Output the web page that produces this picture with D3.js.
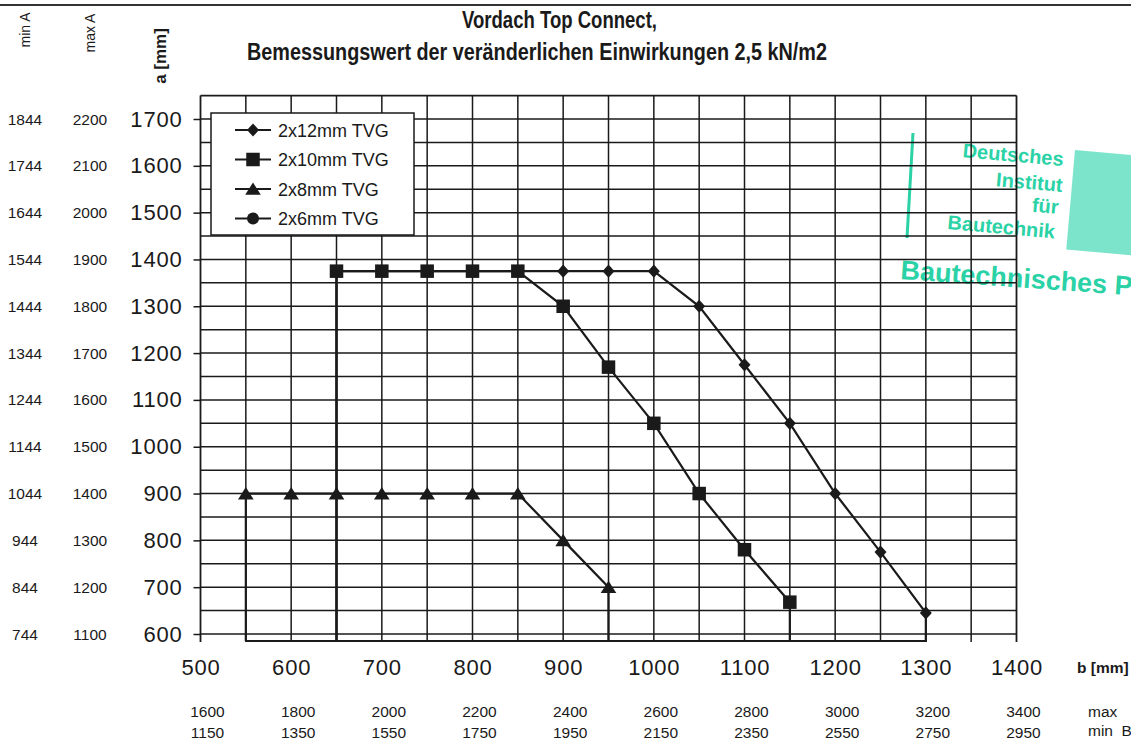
<!DOCTYPE html>
<html><head><meta charset="utf-8">
<script src="https://cdn.jsdelivr.net/npm/d3@7"></script>
<style>
html,body{margin:0;padding:0;background:#fff;}
svg{display:block;}
text{font-family:"Liberation Sans",Arial,Helvetica,sans-serif;fill:#1a1a1a;}
</style></head>
<body>
<svg id="c" width="1131" height="738"></svg>
<script>
// ---- data ----
const titleLines = ["Vordach Top Connect,", "Bemessungswert der veränderlichen Einwirkungen 2,5 kN/m2"];
const seriesNames = ["2x12mm TVG", "2x10mm TVG", "2x8mm TVG", "2x6mm TVG"];
const seriesMarkers = ["diamond", "square", "triangle", "circle"];
const b12 = [650, 700, 750, 800, 850, 900, 950, 1000, 1050, 1100, 1150, 1200, 1250, 1300];
const a12 = [1375, 1375, 1375, 1375, 1375, 1375, 1375, 1375, 1300, 1175, 1050, 900, 775, 645];
const b10 = [650, 700, 750, 800, 850, 900, 950, 1000, 1050, 1100, 1150];
const a10 = [1375, 1375, 1375, 1375, 1375, 1300, 1170, 1050, 900, 780, 668];
const b8 = [550, 600, 650, 700, 750, 800, 850, 900, 950];
const a8 = [900, 900, 900, 900, 900, 900, 900, 800, 700];
const b6 = [];
const a6 = [];
const aTicks = [600, 700, 800, 900, 1000, 1100, 1200, 1300, 1400, 1500, 1600, 1700];
const minA = [744, 844, 944, 1044, 1144, 1244, 1344, 1444, 1544, 1644, 1744, 1844];
const maxA = [1100, 1200, 1300, 1400, 1500, 1600, 1700, 1800, 1900, 2000, 2100, 2200];
const bTicks = [500, 600, 700, 800, 900, 1000, 1100, 1200, 1300, 1400];
const maxB = [1600, 1800, 2000, 2200, 2400, 2600, 2800, 3000, 3200, 3400];
const minB = [1150, 1350, 1550, 1750, 1950, 2150, 2350, 2550, 2750, 2950];
const stampLines = ["Deutsches", "Institut", "für", "Bautechnik"];
const stampBig = "Bautechnisches P";

// ---- layout ----
const svg = d3.select("#c");
const ink = "#1a1a1a";
const teal = "#2ad2a6";
const x = d3.scaleLinear().domain([500, 1400]).range([200.5, 1016.5]);
const y = d3.scaleLinear().domain([600, 1700]).range([634, 119]);
const aTop = 1750, aBase = 585;

// top rule
svg.append("line").attr("x1", 0).attr("x2", 1131).attr("y1", 5).attr("y2", 5)
  .attr("stroke", "#333").attr("stroke-width", 2);

// title
svg.append("text").attr("x", 462).attr("y", 28).attr("font-size", 23).attr("font-weight", "bold")
  .attr("textLength", 195).attr("lengthAdjust", "spacingAndGlyphs").text(titleLines[0]);
svg.append("text").attr("x", 247).attr("y", 60).attr("font-size", 23).attr("font-weight", "bold")
  .attr("textLength", 580).attr("lengthAdjust", "spacingAndGlyphs").text(titleLines[1]);

// stamp (behind grid)
const st = svg.append("g").attr("fill", teal);
st.append("line").attr("x1", 913).attr("y1", 133).attr("x2", 907).attr("y2", 238)
  .attr("stroke", teal).attr("stroke-width", 3);
st.append("rect").attr("x", 1075).attr("y", 150).attr("width", 80).attr("height", 100)
  .attr("fill", "#5addbd").attr("opacity", 0.8).attr("transform", "rotate(5,1075,150)");
const stPos = [[1063, 166, "end"], [1062, 192, "end"], [1058, 214, "end"], [947, 229, "start"]];
stampLines.forEach((t, i) => {
  svg.append("text").attr("x", stPos[i][0]).attr("y", stPos[i][1]).attr("text-anchor", stPos[i][2])
    .attr("font-size", 20).attr("font-weight", "bold").style("fill", teal)
    .attr("transform", `rotate(5,${stPos[i][0]},${stPos[i][1]})`).text(t);
});
svg.append("text").attr("x", 900).attr("y", 279).attr("font-size", 27).attr("font-weight", "bold")
  .style("fill", teal).attr("transform", "rotate(4,900,279)").text(stampBig);

// grid
const g = svg.append("g");
const vGrid = d3.range(500, 1401, 50);
const hGrid = d3.range(600, 1751, 50);
g.selectAll(".v").data(vGrid).join("line")
  .attr("x1", d => x(d)).attr("x2", d => x(d)).attr("y1", y(aTop)).attr("y2", y(aBase) + 1)
  .attr("stroke", ink).attr("stroke-width", d => (d === 500 || d === 1400) ? 1.8 : 1.5);
g.selectAll(".h").data(hGrid).join("line")
  .attr("x1", x(500)).attr("x2", x(1400)).attr("y1", d => y(d)).attr("y2", d => y(d))
  .attr("stroke", ink).attr("stroke-width", d => d === aTop ? 1.8 : 1.5);

// y axis
const ya = svg.append("g").attr("transform", `translate(${x(500)},0)`)
  .call(d3.axisLeft(y).tickValues(aTicks).tickSize(7).tickPadding(11).tickFormat(d3.format("d")));
ya.select(".domain").remove();
ya.selectAll(".tick line").attr("stroke", ink).attr("stroke-width", 1.5);
ya.selectAll(".tick text").attr("font-size", 22).attr("font-family", "Liberation Sans, Arial, sans-serif")
  .attr("fill", ink).attr("letter-spacing", 0.8);

// extra columns min A / max A
svg.append("g").selectAll("text").data(minA).join("text")
  .attr("x", 25).attr("y", (d, i) => y(aTicks[i]) + 5.5).attr("text-anchor", "middle")
  .attr("font-size", 15.5).text(d => d);
svg.append("g").selectAll("text").data(maxA).join("text")
  .attr("x", 90).attr("y", (d, i) => y(aTicks[i]) + 5.5).attr("text-anchor", "middle")
  .attr("font-size", 15.5).text(d => d);
[["min A", 30, 30, "normal", 14], ["max A", 95, 33, "normal", 14], ["a [mm]", 166, 56, "bold", 17]].forEach(([t, cx, cy, w, fs]) => {
  svg.append("text").attr("transform", `translate(${cx},${cy}) rotate(-90)`).attr("text-anchor", "middle")
    .attr("font-size", fs).attr("font-weight", w).text(t);
});

// x axis labels
const xa = svg.append("g").attr("transform", `translate(0,${y(aBase)})`)
  .call(d3.axisBottom(x).tickValues(bTicks).tickSize(0).tickPadding(18).tickFormat(d3.format("d")));
xa.select(".domain").remove();
xa.selectAll(".tick text").attr("font-size", 22).attr("font-family", "Liberation Sans, Arial, sans-serif")
  .attr("fill", ink).attr("letter-spacing", 0.8);
svg.append("text").attr("x", 1077).attr("y", 673).attr("font-size", 15.5).attr("font-weight", "bold").text("b [mm]");

// max B / min B rows
svg.append("g").selectAll("text").data(maxB).join("text")
  .attr("x", (d, i) => x(bTicks[i]) + 7).attr("y", 717).attr("text-anchor", "middle")
  .attr("font-size", 15.5).text(d => d);
svg.append("g").selectAll("text").data(minB).join("text")
  .attr("x", (d, i) => x(bTicks[i]) + 7).attr("y", 738).attr("text-anchor", "middle")
  .attr("font-size", 15.5).text(d => d);
svg.append("text").attr("x", 1088).attr("y", 717).attr("font-size", 15.5).text("max");
svg.append("text").attr("x", 1088).attr("y", 736).attr("font-size", 15.5).attr("xml:space", "preserve").text("min  B");

// markers
function marker(sel, type, s) {
  if (type === "diamond") sel.append("path").attr("d", `M0,${-s*0.55}L${s*0.5},0L0,${s*0.55}L${-s*0.5},0Z`);
  else if (type === "square") sel.append("rect").attr("x", -s*0.5).attr("y", -s*0.5).attr("width", s).attr("height", s);
  else if (type === "triangle") sel.append("path").attr("d", `M0,${-s*0.5}L${s*0.6},${s*0.45}L${-s*0.6},${s*0.45}Z`);
  else sel.append("circle").attr("r", s*0.5);
}

// series
const series = [
  {b: b12, a: a12, m: "diamond", s: 12},
  {b: b10, a: a10, m: "square", s: 13.5},
  {b: b8, a: a8, m: "triangle", s: 13},
  {b: b6, a: a6, m: "circle", s: 12}
];
const line = d3.line().x(d => x(d[0])).y(d => y(d[1]));
series.forEach(sr => {
  if (!sr.b.length) return;
  const pts = sr.b.map((b, i) => [b, sr.a[i]]);
  const closed = [[sr.b[0], aBase], ...pts, [sr.b[sr.b.length - 1], aBase], [sr.b[0], aBase]];
  svg.append("path").attr("d", line(closed)).attr("fill", "none").attr("stroke", ink)
    .attr("stroke-width", 2.2).attr("stroke-linejoin", "miter");
});
series.forEach(sr => {
  sr.b.forEach((b, i) => {
    const mg = svg.append("g").attr("transform", `translate(${x(b)},${y(sr.a[i])})`).attr("fill", ink);
    marker(mg, sr.m, sr.s);
  });
});

// legend
const lg = svg.append("g").attr("transform", "translate(211,113)");
lg.append("rect").attr("width", 203).attr("height", 122).attr("fill", "#fff").attr("stroke", ink).attr("stroke-width", 1.5);
seriesNames.forEach((n, i) => {
  const ry = 17 + i * 29.5;
  lg.append("line").attr("x1", 24).attr("x2", 60).attr("y1", ry).attr("y2", ry).attr("stroke", ink).attr("stroke-width", 2.2);
  const mg = lg.append("g").attr("transform", `translate(42,${ry})`).attr("fill", ink);
  marker(mg, seriesMarkers[i], series[i].s);
  lg.append("text").attr("x", 67).attr("y", ry + 6.5).attr("font-size", 18).text(n);
});
</script>
</body></html>
